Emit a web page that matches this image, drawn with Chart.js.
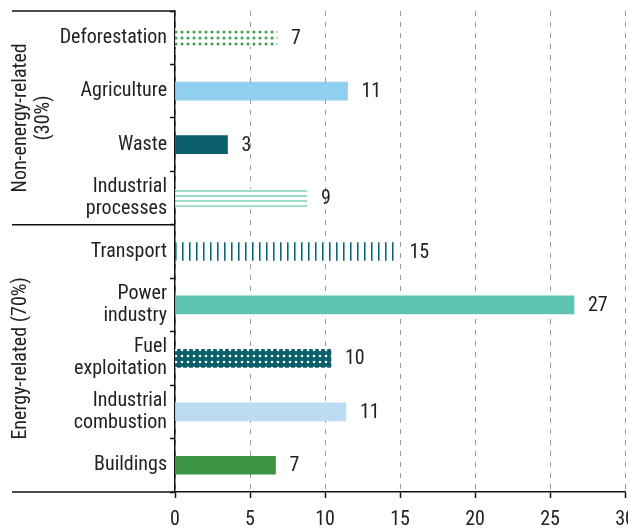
<!DOCTYPE html>
<html>
<head>
<meta charset="utf-8">
<script src="https://cdn.jsdelivr.net/npm/chart.js@4/dist/chart.umd.min.js"></script>
<style>
  html, body { margin: 0; padding: 0; background: #fff; overflow: hidden; }
  #wrap { position: relative; width: 640px; height: 528px; }
</style>
</head>
<body>
<div id="wrap"><canvas id="grafico"></canvas></div>
<script>
//categorie
var categorie = [
  "Deforestation", "Agriculture", "Waste", ["Industrial", "processes"],
  "Transport", ["Power", "industry"], ["Fuel", "exploitation"], ["Industrial", "combustion"], "Buildings"
];
//valori barre
var valori = [6.8, 11.5, 3.5, 8.8, 14.7, 26.6, 10.4, 11.4, 6.7];
//etichette barre
var etichette = ["7", "11", "3", "9", "15", "27", "10", "11", "7"];
//tick asse x
var tickX = [0, 5, 10, 15, 20, 25, 30];
//gruppi
var gruppi = [["Non-energy-related", "(30%)"], ["Energy-related (70%)"]];
var gruppoFine = [3, 8];

var FONT = "'Liberation Sans Narrow', 'Roboto Condensed', Roboto, sans-serif";

//pattern
function pattern(w, h, draw) {
  var c = document.createElement("canvas");
  c.width = w; c.height = h;
  var g = c.getContext("2d");
  draw(g);
  return g.createPattern(c, "repeat");
}
var puntiVerdi = pattern(6, 6, function(g) {
  g.fillStyle = "#fff"; g.fillRect(0, 0, 6, 6);
  g.fillStyle = "#3a9d48";
  g.beginPath(); g.arc(2, 2, 1.5, 0, Math.PI * 2); g.fill();
});
var righeOrizz = pattern(1, 5, function(g) {
  g.fillStyle = "#fff"; g.fillRect(0, 0, 1, 5);
  g.fillStyle = "#9edccd"; g.fillRect(0, 0, 1, 2);
});
var righeVert = pattern(7, 1, function(g) {
  g.fillStyle = "#fff"; g.fillRect(0, 0, 7, 1);
  g.fillStyle = "#0d6470"; g.fillRect(0, 0, 1, 1);
  g.fillStyle = "#6aaeb6"; g.fillRect(1, 0, 1, 1);
});
var puntiBianchi = pattern(6, 6, function(g) {
  g.fillStyle = "#0b5f6b"; g.fillRect(0, 0, 6, 6);
  g.fillStyle = "#fff";
  g.beginPath(); g.arc(2, 2, 1.3, 0, Math.PI * 2); g.fill();
});

var colori = [puntiVerdi, "#8fcff0", "#0b5e6b", righeOrizz, righeVert, "#5ec4b0", puntiBianchi, "#bcdcf3", "#3b9443"];

//plugin etichette e gruppi
var extra = {
  id: "extra",
  afterDatasetsDraw: function(chart) {
    var ctx = chart.ctx;
    var meta = chart.getDatasetMeta(0);
    ctx.save();
    ctx.fillStyle = "#222";
    ctx.font = "20px " + FONT;
    ctx.textBaseline = "middle";
    ctx.textAlign = "left";
    meta.data.forEach(function(bar, i) {
      ctx.fillText(etichette[i], bar.x + 14, bar.y + 1);
    });
    ctx.restore();
  },
  afterDraw: function(chart) {
    var ctx = chart.ctx;
    var y = chart.scales.y;
    var area = chart.chartArea;
    var passo = y.getPixelForValue(1) - y.getPixelForValue(0);
    ctx.save();
    ctx.strokeStyle = "#111";
    ctx.lineWidth = 1.5;
    var linee = [area.top];
    gruppoFine.forEach(function(k) { linee.push(y.getPixelForValue(k) + passo / 2); });
    linee.forEach(function(ly) {
      ctx.beginPath();
      ctx.moveTo(12, ly);
      ctx.lineTo(area.left, ly);
      ctx.stroke();
    });
    //testo gruppi
    ctx.fillStyle = "#222";
    ctx.font = "20px " + FONT;
    ctx.textAlign = "center";
    ctx.textBaseline = "middle";
    var inizio = area.top;
    gruppi.forEach(function(testo, gi) {
      var fine = linee[gi + 1];
      var cy = (inizio + fine) / 2;
      ctx.save();
      ctx.translate(21, cy);
      ctx.rotate(-Math.PI / 2);
      testo.forEach(function(t, li) {
        ctx.fillText(t, 0, li * 23);
      });
      ctx.restore();
      inizio = fine;
    });
    ctx.restore();
  }
};

new Chart(document.getElementById("grafico"), {
  type: "bar",
  data: {
    labels: categorie,
    datasets: [{
      data: valori,
      backgroundColor: colori,
      borderWidth: 0,
      barThickness: 18
    }]
  },
  options: {
    indexAxis: "y",
    responsive: true,
    maintainAspectRatio: false,
    animation: false,
    layout: { padding: { top: 11, left: 0, right: 15, bottom: 0 } },
    plugins: { legend: { display: false }, tooltip: { enabled: false } },
    scales: {
      x: {
        min: 0, max: 30,
        afterBuildTicks: function(s) { s.ticks = tickX.map(function(v) { return { value: v }; }); },
        afterFit: function(s) { s.height = 36; s.paddingLeft = 0; s.paddingRight = 0; },
        grid: {
          color: "#999", lineWidth: 1,
          drawTicks: true, tickLength: 6, tickColor: "#111", tickBorderDash: [20, 0], tickWidth: 1.5
        },
        border: { color: "#111", width: 1.5, dash: [5, 6] },
        ticks: { color: "#222", font: { size: 20, family: FONT }, padding: 10, maxRotation: 0 }
      },
      y: {
        afterFit: function(s) { s.width = 175; s.paddingTop = 0; s.paddingBottom = 0; },
        grid: { drawOnChartArea: false, drawTicks: true, tickLength: 5, tickColor: "#111", tickWidth: 1.5 },
        border: { color: "#111", width: 1.5 },
        ticks: { color: "#222", font: { size: 20, family: FONT, lineHeight: 1.1 }, padding: 3 }
      }
    }
  },
  plugins: [extra]
});
</script>
</body>
</html>
